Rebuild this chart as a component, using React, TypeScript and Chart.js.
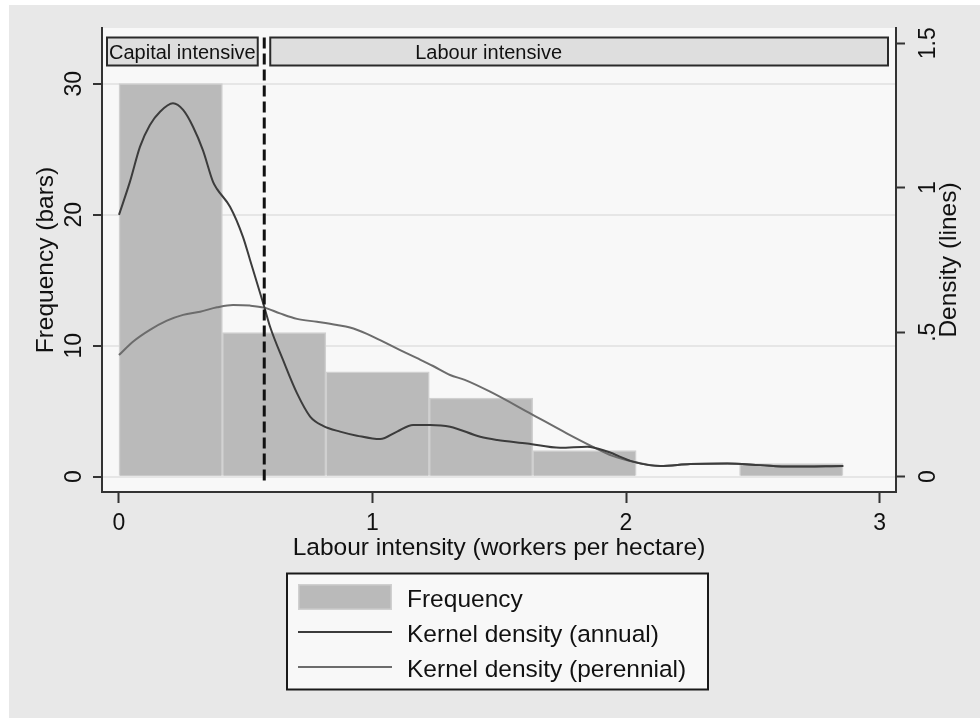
import React, { useEffect, useRef } from "react";
import { Chart, registerables } from "chart.js";

Chart.register(...registerables);

// ---------------- data ----------------
const binCenters = [0.204, 0.612, 1.02, 1.428, 1.836, 2.244, 2.652];
const frequency = [30, 11, 8, 6, 2, 0, 1];

const annualX = [0, 0.043, 0.083, 0.122, 0.162, 0.213, 0.253, 0.292, 0.331, 0.371, 0.387, 0.438, 0.489, 0.517, 0.573, 0.596, 0.647, 0.702, 0.754, 0.805, 0.872, 0.939, 1.03, 1.097, 1.16, 1.227, 1.306, 1.425, 1.492, 1.61, 1.74, 1.847, 1.926, 2.028, 2.135, 2.253, 2.399, 2.53, 2.648, 2.857];
const annualDensity = [0.906, 1.02, 1.142, 1.217, 1.263, 1.292, 1.269, 1.211, 1.13, 1.02, 0.995, 0.934, 0.83, 0.75, 0.588, 0.519, 0.404, 0.289, 0.208, 0.176, 0.156, 0.142, 0.13, 0.156, 0.179, 0.179, 0.173, 0.138, 0.127, 0.115, 0.1, 0.104, 0.087, 0.052, 0.037, 0.044, 0.046, 0.04, 0.035, 0.037];

const perennialX = [0, 0.055, 0.122, 0.189, 0.253, 0.32, 0.387, 0.45, 0.517, 0.573, 0.635, 0.702, 0.781, 0.86, 0.911, 0.978, 1.042, 1.109, 1.176, 1.239, 1.306, 1.364, 1.464, 1.622, 1.766, 1.868, 1.947, 2.028, 2.135, 2.253, 2.399, 2.53, 2.648, 2.857];
const perennialDensity = [0.421, 0.467, 0.508, 0.54, 0.56, 0.571, 0.586, 0.594, 0.592, 0.585, 0.565, 0.546, 0.536, 0.525, 0.516, 0.494, 0.467, 0.438, 0.41, 0.383, 0.352, 0.335, 0.294, 0.219, 0.15, 0.104, 0.072, 0.052, 0.037, 0.044, 0.046, 0.04, 0.035, 0.037];

const xTicks = [0, 1, 2, 3];
const xTickLabels = ["0", "1", "2", "3"];
const freqTicks = [0, 10, 20, 30];
const freqTickLabels = ["0", "10", "20", "30"];
const densTicks = [0, 0.5, 1, 1.5];
const densTickLabels = ["0", ".5", "1", "1.5"];

const cutoff = 0.573;
const stripLabels = ["Capital intensive", "Labour intensive"];
const seriesLabels = ["Frequency", "Kernel density (annual)", "Kernel density (perennial)"];
const xTitle = "Labour intensity (workers per hectare)";
const yTitle = "Frequency (bars)";
const y1Title = "Density (lines)";

// ---------------- styling ----------------
const FONT = '"Liberation Sans", Arial, Helvetica, sans-serif';
const AXIS_COLOR = "#333333";
const TEXT_COLOR = "#111111";

const decorPlugin = {
  id: "decor",
  beforeDraw(chart: any) {
    const { ctx, width, height, chartArea: a } = chart;
    ctx.save();
    ctx.fillStyle = "#ffffff";
    ctx.fillRect(0, 0, width, height);
    ctx.fillStyle = "#e8e8e8";
    ctx.fillRect(9, 5, width - 9, height - 5);
    ctx.fillStyle = "#f8f8f8";
    ctx.fillRect(a.left, a.top, a.right - a.left, a.bottom - a.top);
    ctx.restore();
  },
  afterDatasetsDraw(chart: any) {
    const { ctx, chartArea: a, scales } = chart;
    const cx = scales.x.getPixelForValue(cutoff);
    const y0 = scales.y.getPixelForValue(0);
    ctx.save();
    // strips
    const top = a.top + 9.5;
    const h = 28;
    ctx.lineWidth = 2;
    ctx.strokeStyle = "#2a2a2a";
    ctx.fillStyle = "#dedede";
    const capL = a.left + 5;
    const capR = cx - 6.5;
    ctx.fillRect(capL, top, capR - capL, h);
    ctx.strokeRect(capL, top, capR - capL, h);
    const labL = cx + 6;
    const labR = a.right - 8;
    ctx.fillStyle = "#dedede";
    ctx.fillRect(labL, top, labR - labL, h);
    ctx.strokeRect(labL, top, labR - labL, h);
    ctx.fillStyle = TEXT_COLOR;
    ctx.font = `20px ${FONT}`;
    ctx.textBaseline = "alphabetic";
    ctx.textAlign = "center";
    ctx.fillText(stripLabels[0], (capL + capR) / 2, top + 21);
    ctx.textAlign = "left";
    ctx.fillText(stripLabels[1], labL + 145, top + 21);
    // dashed cutoff line
    ctx.beginPath();
    ctx.setLineDash([11, 5]);
    ctx.lineWidth = 3;
    ctx.strokeStyle = "#111111";
    ctx.moveTo(cx, top);
    ctx.lineTo(cx, y0 + 5);
    ctx.stroke();
    ctx.setLineDash([]);
    ctx.restore();
  },
  afterDraw(chart: any) {
    const { ctx, chartArea: a, scales } = chart;
    ctx.save();
    ctx.fillStyle = TEXT_COLOR;
    // x tick labels
    ctx.font = `23px ${FONT}`;
    ctx.textAlign = "center";
    ctx.textBaseline = "alphabetic";
    xTicks.forEach((v, i) => {
      ctx.fillText(xTickLabels[i], scales.x.getPixelForValue(v), 530);
    });
    // left tick labels (rotated)
    freqTicks.forEach((v, i) => {
      const py = scales.y.getPixelForValue(v);
      ctx.save();
      ctx.translate(81, py);
      ctx.rotate(-Math.PI / 2);
      ctx.fillText(freqTickLabels[i], 0, 0);
      ctx.restore();
    });
    // right tick labels (rotated)
    densTicks.forEach((v, i) => {
      const py = scales.y1.getPixelForValue(v);
      ctx.save();
      ctx.translate(934.5, py);
      ctx.rotate(-Math.PI / 2);
      ctx.fillText(densTickLabels[i], 0, 0);
      ctx.restore();
    });
    // titles
    ctx.font = `24.5px ${FONT}`;
    ctx.fillText(xTitle, (a.left + a.right) / 2, 555);
    const midY = (a.top + a.bottom) / 2;
    ctx.save();
    ctx.translate(53, midY);
    ctx.rotate(-Math.PI / 2);
    ctx.fillText(yTitle, 0, 0);
    ctx.restore();
    ctx.save();
    ctx.translate(955.5, midY);
    ctx.rotate(-Math.PI / 2);
    ctx.fillText(y1Title, 0, 0);
    ctx.restore();

    // legend
    const lx = 287, ly = 573.5, lw = 421, lh = 116;
    ctx.fillStyle = "#f8f8f8";
    ctx.fillRect(lx, ly, lw, lh);
    ctx.lineWidth = 2;
    ctx.strokeStyle = "#1a1a1a";
    ctx.strokeRect(lx, ly, lw, lh);
    const ds = chart.data.datasets;
    const sx1 = 298, sx2 = 392, tx = 407;
    const baselines = [606.5, 641.5, 676.5];
    // frequency patch
    ctx.fillStyle = ds[0].backgroundColor;
    ctx.fillRect(sx1, 584, sx2 - sx1, 26);
    ctx.lineWidth = 1.5;
    ctx.strokeStyle = ds[0].borderColor;
    ctx.strokeRect(sx1 + 0.75, 584.75, sx2 - sx1 - 1.5, 24.5);
    [1, 2].forEach((k) => {
      const yy = baselines[k] - 9.5;
      ctx.beginPath();
      ctx.strokeStyle = ds[k].borderColor;
      ctx.lineWidth = 2;
      ctx.moveTo(sx1, yy);
      ctx.lineTo(sx2, yy);
      ctx.stroke();
    });
    ctx.fillStyle = TEXT_COLOR;
    ctx.font = `24.5px ${FONT}`;
    ctx.textAlign = "left";
    seriesLabels.forEach((s, i) => ctx.fillText(s, tx, baselines[i]));
    ctx.restore();
  },
};

export default function App() {
  const canvasRef = useRef<HTMLCanvasElement | null>(null);

  useEffect(() => {
    const canvas = canvasRef.current;
    if (!canvas) return;
    const chart = new Chart(canvas, {
      type: "bar",
      data: {
        datasets: [
          {
            type: "bar",
            label: seriesLabels[0],
            data: binCenters.map((x, i) => ({ x, y: frequency[i] })),
            backgroundColor: "#bababa",
            borderColor: "#d0d0d0",
            borderWidth: 1.5,
            barPercentage: 1,
            categoryPercentage: 1,
            xAxisID: "x",
            yAxisID: "y",
            order: 3,
          } as any,
          {
            type: "line",
            label: seriesLabels[1],
            data: annualX.map((x, i) => ({ x, y: annualDensity[i] })),
            borderColor: "#3c3c3c",
            borderWidth: 2,
            pointRadius: 0,
            fill: false,
            cubicInterpolationMode: "monotone",
            xAxisID: "x",
            yAxisID: "y1",
            order: 1,
          } as any,
          {
            type: "line",
            label: seriesLabels[2],
            data: perennialX.map((x, i) => ({ x, y: perennialDensity[i] })),
            borderColor: "#6c6c6c",
            borderWidth: 2,
            pointRadius: 0,
            fill: false,
            cubicInterpolationMode: "monotone",
            xAxisID: "x",
            yAxisID: "y1",
            order: 2,
          } as any,
        ],
      },
      options: {
        animation: false,
        responsive: false,
        maintainAspectRatio: false,
        layout: { padding: { top: 28, left: 0, right: 0, bottom: 0 } },
        plugins: { legend: { display: false }, title: { display: false }, tooltip: { enabled: false } },
        scales: {
          x: {
            type: "linear",
            position: "bottom",
            min: -0.067,
            max: 3.065,
            offset: false,
            afterBuildTicks: (s: any) => {
              s.ticks = xTicks.map((v) => ({ value: v }));
            },
            afterFit: (s: any) => {
              s.height = 226;
            },
            grid: { offset: false, drawOnChartArea: false, drawTicks: true, tickLength: 11, tickColor: AXIS_COLOR, tickWidth: 2 },
            border: { display: true, color: AXIS_COLOR, width: 2 },
            ticks: { display: false },
          },
          y: {
            type: "linear",
            position: "left",
            min: -1.17,
            max: 34.25,
            afterBuildTicks: (s: any) => {
              s.ticks = freqTicks.map((v) => ({ value: v }));
            },
            afterFit: (s: any) => {
              s.width = 102;
            },
            grid: { offset: false, color: "#e6e6e6", lineWidth: 2, drawTicks: true, tickLength: 9, tickColor: AXIS_COLOR, tickWidth: 2 },
            border: { display: true, color: AXIS_COLOR, width: 2 },
            ticks: { display: false },
          },
          y1: {
            type: "linear",
            position: "right",
            min: -0.053,
            max: 1.5526,
            afterBuildTicks: (s: any) => {
              s.ticks = densTicks.map((v) => ({ value: v }));
            },
            afterFit: (s: any) => {
              s.width = 84;
            },
            grid: { offset: false, drawOnChartArea: false, drawTicks: true, tickLength: 9, tickColor: AXIS_COLOR, tickWidth: 2 },
            border: { display: true, color: AXIS_COLOR, width: 2 },
            ticks: { display: false },
          },
        },
      } as any,
      plugins: [decorPlugin],
    });
    return () => chart.destroy();
  }, []);

  return (
    <div style={{ position: "fixed", left: 0, top: 0, width: 980, height: 718 }}>
      <canvas ref={canvasRef} width={980} height={718} style={{ display: "block", width: 980, height: 718 }} />
    </div>
  );
}
